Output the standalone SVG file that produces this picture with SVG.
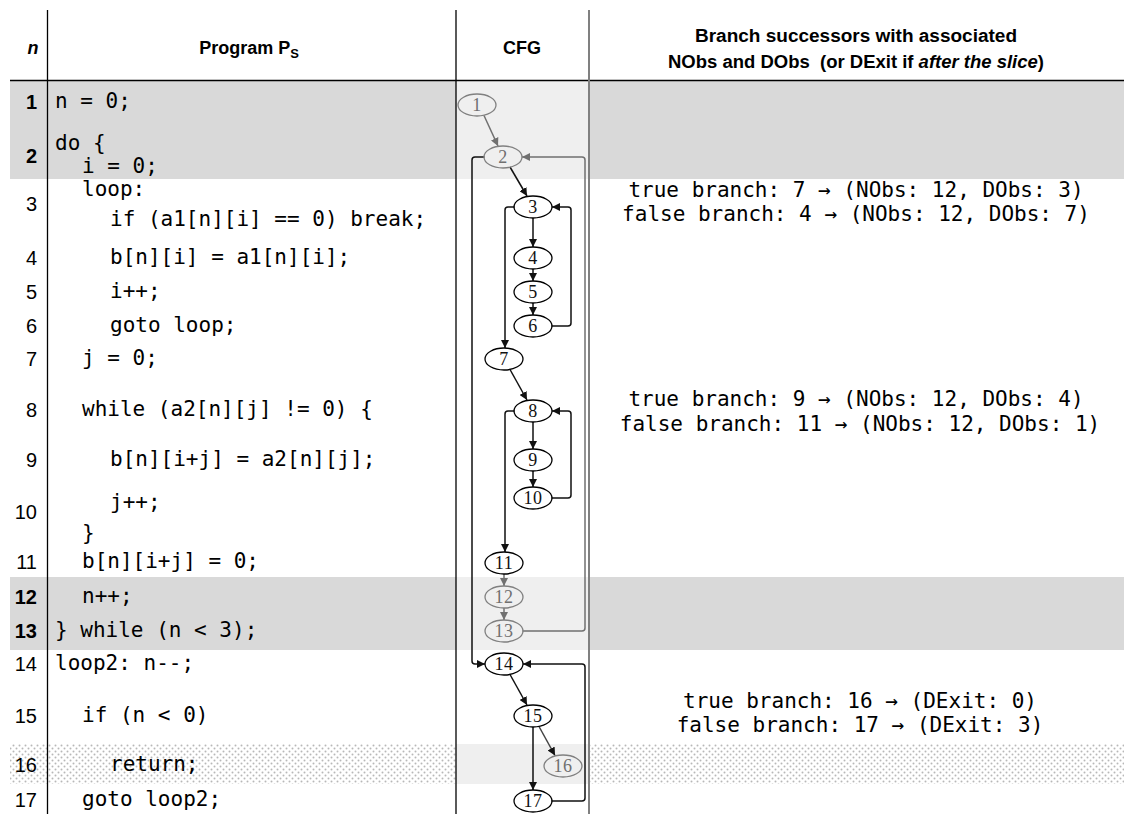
<svg xmlns="http://www.w3.org/2000/svg" width="1124" height="814" viewBox="0 0 1124 814">
<style>
.hdr{font-family:"Liberation Sans",Arial,sans-serif;font-weight:bold;font-size:18px;fill:#000;white-space:pre}
.num{font-family:"Liberation Sans",Arial,sans-serif;font-size:20px;fill:#000;text-anchor:end}
.numb{font-weight:bold}
.code{font-family:"DejaVu Sans Mono","Liberation Mono",monospace;font-size:21px;fill:#000;white-space:pre}
.br{font-family:"DejaVu Sans Mono","Liberation Mono",monospace;font-size:21px;fill:#000;text-anchor:middle;white-space:pre}
.nd ellipse{fill:none;stroke:#000;stroke-width:1.3}
.nd text{font-family:"Liberation Serif","Times New Roman",serif;font-size:18px;fill:#111;text-anchor:middle;letter-spacing:0.5px}
.nd.g ellipse{stroke:#808080}
.nd.g text{fill:#707070}
.e{fill:none;stroke:#111;stroke-width:1.5;marker-end:url(#ab)}
.e.g{stroke:#707070;marker-end:url(#ag)}
.grid{stroke:#000;stroke-width:1.3}
</style>
<defs>
<marker id="ab" markerUnits="userSpaceOnUse" markerWidth="9" markerHeight="8" refX="8" refY="4" orient="auto"><path d="M0,0 L8,4 L0,8 Z" fill="#111"/></marker>
<marker id="ag" markerUnits="userSpaceOnUse" markerWidth="9" markerHeight="8" refX="8" refY="4" orient="auto"><path d="M0,0 L8,4 L0,8 Z" fill="#707070"/></marker>
<pattern id="dots" width="6" height="6" patternUnits="userSpaceOnUse"><rect width="6" height="6" fill="#fff"/><circle cx="1.5" cy="1.5" r="1" fill="#b8b8b8"/><circle cx="4.5" cy="4.5" r="1" fill="#b8b8b8"/></pattern>
</defs>
<rect width="1124" height="814" fill="#fff"/>
<g id="shading">
<rect x="10" y="81" width="446" height="98" fill="#d9d9d9"/>
<rect x="456" y="81" width="133" height="98" fill="#efefef"/>
<rect x="589" y="81" width="535" height="98" fill="#d9d9d9"/>
<rect x="10" y="577" width="446" height="73" fill="#d9d9d9"/>
<rect x="456" y="577" width="133" height="73" fill="#efefef"/>
<rect x="589" y="577" width="535" height="73" fill="#d9d9d9"/>
<rect x="10" y="744" width="446" height="40" fill="url(#dots)"/>
<rect x="456" y="744" width="133" height="40" fill="#efefef"/>
<rect x="589" y="744" width="535" height="40" fill="url(#dots)"/>
</g>
<g id="grid">
<line class="grid" x1="10" y1="80.5" x2="1124" y2="80.5"/>
<line class="grid" x1="47.5" y1="10" x2="47.5" y2="814"/>
<line class="grid" x1="456" y1="10" x2="456" y2="814"/>
<line x1="589" y1="10" x2="589" y2="814" stroke="#808080" stroke-width="2"/>
</g>
<g id="header">
<text class="hdr" x="33" y="54" text-anchor="middle" font-style="italic">n</text>
<text class="hdr" x="249" y="54" text-anchor="middle">Program P<tspan font-size="13" dy="4">S</tspan></text>
<text class="hdr" x="522" y="54" text-anchor="middle">CFG</text>
<text class="hdr" x="856" y="42" text-anchor="middle" textLength="322" lengthAdjust="spacingAndGlyphs">Branch successors with associated</text>
<text class="hdr" x="856" y="68" text-anchor="middle" textLength="376" lengthAdjust="spacingAndGlyphs">NObs and DObs  (or DExit if <tspan font-style="italic">after the slice</tspan>)</text>
</g>
<g id="linenumbers">
<text class="num numb" x="37" y="109">1</text>
<text class="num numb" x="37" y="163">2</text>
<text class="num" x="37" y="211">3</text>
<text class="num" x="37" y="265">4</text>
<text class="num" x="37" y="299">5</text>
<text class="num" x="37" y="333">6</text>
<text class="num" x="37" y="366">7</text>
<text class="num" x="37" y="417">8</text>
<text class="num" x="37" y="467">9</text>
<text class="num" x="37" y="519">10</text>
<text class="num" x="37" y="569">11</text>
<text class="num numb" x="37" y="604">12</text>
<text class="num numb" x="37" y="638">13</text>
<text class="num" x="37" y="671">14</text>
<text class="num" x="37" y="723">15</text>
<text class="num" x="37" y="772">16</text>
<text class="num" x="37" y="807">17</text>
</g>
<g id="program">
<text class="code" x="55" y="108">n = 0;</text>
<text class="code" x="55" y="150">do {</text>
<text class="code" x="82" y="173">i = 0;</text>
<text class="code" x="82" y="196">loop:</text>
<text class="code" x="110" y="226">if (a1[n][i] == 0) break;</text>
<text class="code" x="110" y="264">b[n][i] = a1[n][i];</text>
<text class="code" x="110" y="298">i++;</text>
<text class="code" x="110" y="332">goto loop;</text>
<text class="code" x="82" y="365">j = 0;</text>
<text class="code" x="82" y="416">while (a2[n][j] != 0) {</text>
<text class="code" x="110" y="466">b[n][i+j] = a2[n][j];</text>
<text class="code" x="110" y="509">j++;</text>
<text class="code" x="82" y="540">}</text>
<text class="code" x="82" y="568">b[n][i+j] = 0;</text>
<text class="code" x="82" y="603">n++;</text>
<text class="code" x="55" y="637">} while (n &lt; 3);</text>
<text class="code" x="55" y="670">loop2: n--;</text>
<text class="code" x="82" y="722">if (n &lt; 0)</text>
<text class="code" x="110" y="771">return;</text>
<text class="code" x="82" y="806">goto loop2;</text>
</g>
<g id="branches">
<text class="br" x="856" y="197">true branch: 7 → (NObs: 12, DObs: 3)</text>
<text class="br" x="856" y="221">false branch: 4 → (NObs: 12, DObs: 7)</text>
<text class="br" x="856" y="406">true branch: 9 → (NObs: 12, DObs: 4)</text>
<text class="br" x="860" y="431">false branch: 11 → (NObs: 12, DObs: 1)</text>
<text class="br" x="860" y="708">true branch: 16 → (DExit: 0)</text>
<text class="br" x="860" y="732">false branch: 17 → (DExit: 3)</text>
</g>
<g id="connectors">
<path class="e g" d="M484,115.5 L498,146"/>
<path class="e" d="M510,167 L527,196"/>
<path class="e" d="M533,218 V247"/>
<path class="e" d="M533,269 V281"/>
<path class="e" d="M533,303 V315"/>
<path class="e" d="M551.5,326 H568 Q571,326 571,323 V210 Q571,207 568,207 H552"/>
<path class="e" d="M514.5,207 H508 Q505,207 505,210 V348"/>
<path class="e" d="M510,369.5 L527,400"/>
<path class="e" d="M533,422 V449"/>
<path class="e" d="M533,471 V487"/>
<path class="e" d="M551.5,498 H568 Q571,498 571,495 V414 Q571,411 568,411 H552"/>
<path class="e" d="M514.5,411 H508 Q505,411 505,414 V552"/>
<path class="e g" d="M504,574 V586"/>
<path class="e g" d="M504,608 V620"/>
<path class="e g" d="M522.5,631 H582 Q585,631 585,628 V160 Q585,157 582,157 H522"/>
<path class="e" d="M484.5,157 H475 Q472,157 472,160 V661 Q472,664 475,664 H485"/>
<path class="e" d="M510,674.5 L527,705"/>
<path class="e" style="stroke:#444" d="M539,726.5 L555,755.5"/>
<path class="e" d="M533,727 V790"/>
<path class="e" d="M551.5,801 H582 Q585,801 585,798 V667 Q585,664 582,664 H523"/>
</g>
<g id="node1" class="nd g"><ellipse cx="477" cy="105" rx="19" ry="11"/><text x="477" y="111">1</text></g>
<g id="node2" class="nd g"><ellipse cx="503" cy="157" rx="19" ry="11"/><text x="503" y="163">2</text></g>
<g id="node3" class="nd"><ellipse cx="533" cy="207" rx="19" ry="11"/><text x="533" y="213">3</text></g>
<g id="node4" class="nd"><ellipse cx="533" cy="258" rx="19" ry="11"/><text x="533" y="264">4</text></g>
<g id="node5" class="nd"><ellipse cx="533" cy="292" rx="19" ry="11"/><text x="533" y="298">5</text></g>
<g id="node6" class="nd"><ellipse cx="533" cy="326" rx="19" ry="11"/><text x="533" y="332">6</text></g>
<g id="node7" class="nd"><ellipse cx="504" cy="359" rx="19" ry="11"/><text x="504" y="365">7</text></g>
<g id="node8" class="nd"><ellipse cx="533" cy="411" rx="19" ry="11"/><text x="533" y="417">8</text></g>
<g id="node9" class="nd"><ellipse cx="533" cy="460" rx="19" ry="11"/><text x="533" y="466">9</text></g>
<g id="node10" class="nd"><ellipse cx="533" cy="498" rx="19" ry="11"/><text x="533" y="504">10</text></g>
<g id="node11" class="nd"><ellipse cx="504" cy="563" rx="19" ry="11"/><text x="504" y="569">11</text></g>
<g id="node12" class="nd g"><ellipse cx="504" cy="597" rx="19" ry="11"/><text x="504" y="603">12</text></g>
<g id="node13" class="nd g"><ellipse cx="504" cy="631" rx="19" ry="11"/><text x="504" y="637">13</text></g>
<g id="node14" class="nd"><ellipse cx="504" cy="664" rx="19" ry="11"/><text x="504" y="670">14</text></g>
<g id="node15" class="nd"><ellipse cx="533" cy="716" rx="19" ry="11"/><text x="533" y="722">15</text></g>
<g id="node16" class="nd g"><ellipse cx="563" cy="766" rx="19" ry="11"/><text x="563" y="772">16</text></g>
<g id="node17" class="nd"><ellipse cx="533" cy="801" rx="19" ry="11"/><text x="533" y="807">17</text></g>
</svg>
